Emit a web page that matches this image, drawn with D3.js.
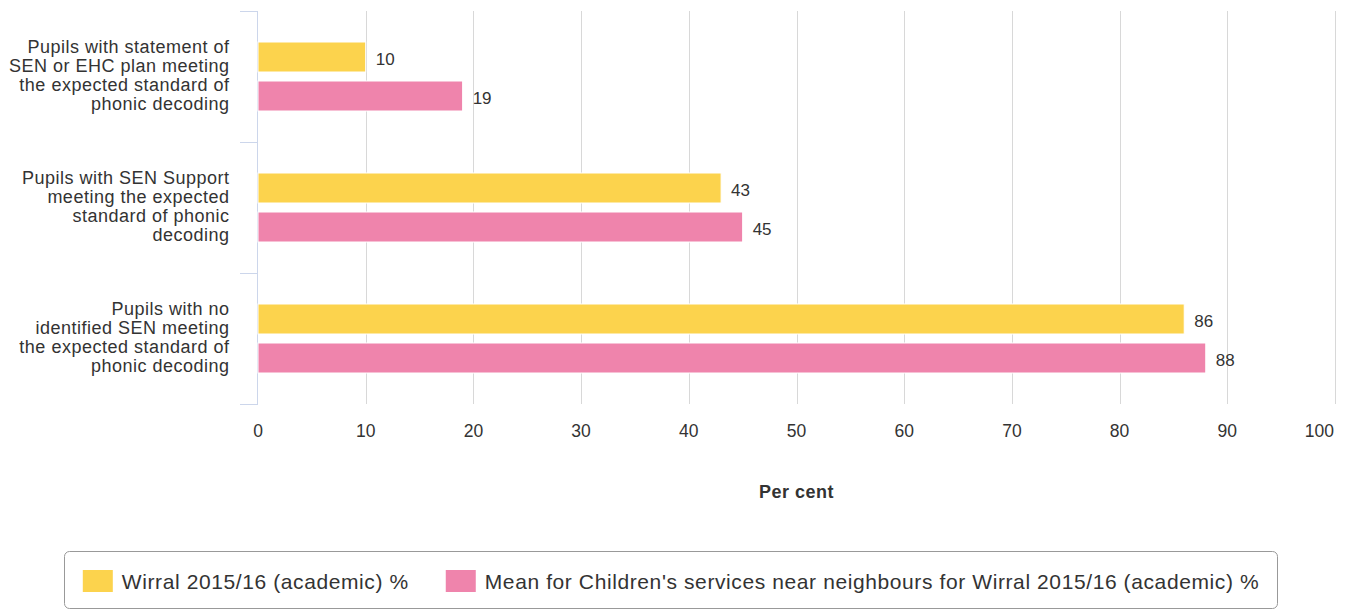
<!DOCTYPE html>
<html>
<head>
<meta charset="utf-8">
<script src="https://cdn.jsdelivr.net/npm/d3@7"></script>
<style>
  html, body { margin: 0; padding: 0; background: #fff; }
  svg { display: block; font-family: "Liberation Sans", Arial, sans-serif; }
</style>
</head>
<body>
<svg id="chart" width="1345" height="610"></svg>
<script>
// ---- data ----
const categories = [
  "Pupils with statement of SEN or EHC plan meeting the expected standard of phonic decoding",
  "Pupils with SEN Support meeting the expected standard of phonic decoding",
  "Pupils with no identified SEN meeting the expected standard of phonic decoding"
];
const categoryLines = [
  ["Pupils with statement of", "SEN or EHC plan meeting", "the expected standard of", "phonic decoding"],
  ["Pupils with SEN Support", "meeting the expected", "standard of phonic", "decoding"],
  ["Pupils with no", "identified SEN meeting", "the expected standard of", "phonic decoding"]
];
const seriesNames = [
  "Wirral 2015/16 (academic) %",
  "Mean for Children's services near neighbours for Wirral 2015/16 (academic) %"
];
const wirralValues = [10, 43, 86];
const neighbourValues = [19, 45, 88];
const xTicks = [0, 10, 20, 30, 40, 50, 60, 70, 80, 90, 100];
const xAxisTitle = "Per cent";
const seriesColors = ["#fcd34d", "#ef84ac"];

// ---- layout ----
const svg = d3.select("#chart");
const plot = { left: 258, right: 1335, top: 11, bottom: 404 };
const textColor = "#333333";

const x = d3.scaleLinear().domain([0, 100]).range([plot.left, plot.right]);
const y = d3.scaleBand().domain(categories).range([plot.top, plot.bottom]).padding(0);
// sub-band for the two series: bars 30px, gap 9px inside a 131px band
const step = 39, bar = 30;
const po = (y.bandwidth() - (2 * step - (step - bar))) / 2 / step;
const ySub = d3.scaleBand().domain([0, 1]).range([0, y.bandwidth()])
  .paddingInner((step - bar) / step).paddingOuter(po);

// gridlines
svg.append("g").selectAll("line")
  .data(xTicks.filter(d => d !== 0))
  .join("line")
  .attr("x1", d => Math.round(x(d)) + 0.5).attr("x2", d => Math.round(x(d)) + 0.5)
  .attr("y1", plot.top).attr("y2", plot.bottom)
  .attr("stroke", "#d8d8d8").attr("stroke-width", 1);

// y axis line & ticks
const axisColor = "#ccd6eb";
svg.append("line")
  .attr("x1", plot.left - 0.5).attr("x2", plot.left - 0.5)
  .attr("y1", plot.top).attr("y2", plot.bottom)
  .attr("stroke", axisColor);
const boundaries = categories.map(c => y(c)).concat([y(categories[categories.length - 1]) + y.bandwidth()]);
svg.append("g").selectAll("line")
  .data(boundaries).join("line")
  .attr("x1", plot.left - 18).attr("x2", plot.left)
  .attr("y1", d => Math.round(d) + 0.5).attr("y2", d => Math.round(d) + 0.5)
  .attr("stroke", axisColor);

// bars
const series = [wirralValues, neighbourValues];
series.forEach((vals, si) => {
  const g = svg.append("g");
  g.selectAll("rect")
    .data(vals.map((v, i) => ({ v, c: categories[i] })))
    .join("rect")
    .attr("x", x(0))
    .attr("y", d => y(d.c) + ySub(si))
    .attr("width", d => x(d.v) - x(0))
    .attr("height", ySub.bandwidth())
    .attr("fill", seriesColors[si])
    .attr("stroke", "#ffffff").attr("stroke-width", 1);
  g.selectAll("text")
    .data(vals.map((v, i) => ({ v, c: categories[i] })))
    .join("text")
    .attr("x", d => x(d.v) + 10)
    .attr("y", d => y(d.c) + ySub(si) + ySub.bandwidth() / 2 + 2)
    .attr("dominant-baseline", "central")
    .attr("font-size", "17px")
    .attr("fill", textColor)
    .text(d => d.v);
});

// category labels
const lh = 19;
categories.forEach((c, i) => {
  const lines = categoryLines[i];
  const cy = y(c) + y.bandwidth() / 2 - 2;
  const t = svg.append("text")
    .attr("text-anchor", "end")
    .attr("font-size", "18px")
    .attr("letter-spacing", "0.5px")
    .attr("fill", textColor);
  lines.forEach((ln, j) => {
    t.append("tspan")
      .attr("x", 229.5)
      .attr("y", cy + (j - (lines.length - 1) / 2) * lh + 6.5)
      .text(ln);
  });
});

// x tick labels
svg.append("g").selectAll("text")
  .data(xTicks).join("text")
  .attr("x", (d, i) => i === xTicks.length - 1 ? plot.right - 1 : x(d))
  .attr("y", 437)
  .attr("text-anchor", (d, i) => i === xTicks.length - 1 ? "end" : "middle")
  .attr("font-size", "17.5px")
  .attr("fill", textColor)
  .text(d => d);

// axis title
svg.append("text")
  .attr("x", (plot.left + plot.right) / 2)
  .attr("y", 498)
  .attr("text-anchor", "middle")
  .attr("font-size", "18px")
  .attr("letter-spacing", "0.5px")
  .attr("font-weight", "bold")
  .attr("fill", textColor)
  .text(xAxisTitle);

// legend
const legend = svg.append("g");
legend.append("rect")
  .attr("x", 64.5).attr("y", 551.5)
  .attr("width", 1213).attr("height", 57)
  .attr("rx", 5).attr("ry", 5)
  .attr("fill", "#fff").attr("stroke", "#999999").attr("stroke-width", 1);
const items = legend.append("g");
let cx = 0;
const itemGap = 37;
seriesNames.forEach((name, i) => {
  const it = items.append("g").attr("transform", `translate(${cx},0)`);
  it.append("rect").attr("x", 0).attr("y", 570).attr("width", 30).attr("height", 22)
    .attr("fill", seriesColors[i]);
  const t = it.append("text").attr("x", 39).attr("y", 588.5)
    .attr("font-size", "21px").attr("letter-spacing", "0.6px")
    .attr("fill", textColor).text(name);
  cx += 39 + t.node().getComputedTextLength() + itemGap;
});
const totalW = cx - itemGap;
items.attr("transform", `translate(${(64 + 1278) / 2 - totalW / 2},0)`);
</script>
</body>
</html>
